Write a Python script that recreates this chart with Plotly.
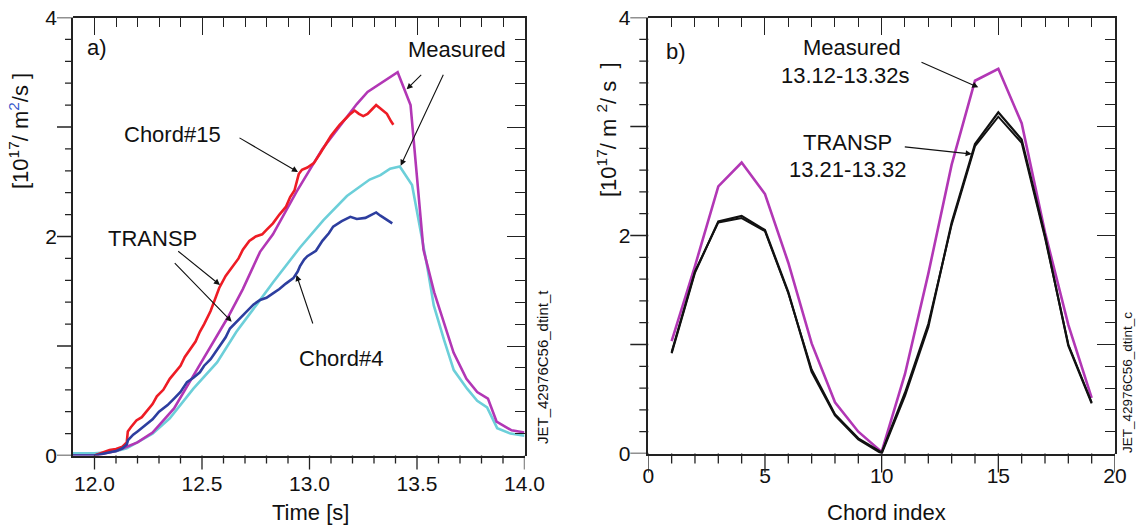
import plotly.graph_objects as go

# ---------------- data ----------------
# panel a) measured signals
t_meas = [11.90, 12.00, 12.05, 12.10, 12.15, 12.20, 12.27, 12.37, 12.46, 12.54, 12.62, 12.69,
          12.77, 12.83, 12.94, 13.06, 13.16, 13.22, 13.27, 13.41, 13.47, 13.53, 13.58, 13.67,
          13.73, 13.78, 13.83, 13.87, 13.94, 14.00]
meas_chord15 = [0.00, 0.00, 0.02, 0.04, 0.08, 0.12, 0.21, 0.43, 0.73, 1.00, 1.26, 1.52,
                1.86, 2.02, 2.41, 2.80, 3.06, 3.21, 3.32, 3.50, 3.20, 1.88, 1.49, 0.94,
                0.70, 0.58, 0.52, 0.31, 0.23, 0.21]

t_meas4 = [11.90, 12.00, 12.06, 12.10, 12.15, 12.27, 12.35, 12.46, 12.57, 12.66, 12.755, 12.83,
           12.956, 13.065, 13.174, 13.28, 13.33, 13.375, 13.42, 13.477, 13.547, 13.578, 13.625,
           13.671, 13.733, 13.78, 13.826, 13.873, 13.935, 14.00]
meas_chord4 = [0.02, 0.02, 0.03, 0.04, 0.066, 0.20, 0.34, 0.61, 0.85, 1.13, 1.38, 1.58,
               1.90, 2.15, 2.37, 2.52, 2.56, 2.62, 2.64, 2.47, 1.73, 1.37, 1.06,
               0.78, 0.61, 0.50, 0.44, 0.25, 0.20, 0.18]

# panel a) TRANSP simulated signals
t_tr15 = [12.00, 12.04, 12.07, 12.10, 12.13, 12.15, 12.155, 12.17, 12.195, 12.22, 12.24, 12.27,
          12.29, 12.32, 12.35, 12.37, 12.40, 12.42, 12.44, 12.47, 12.49, 12.51, 12.54, 12.56,
          12.58, 12.61, 12.645, 12.67, 12.69, 12.72, 12.75, 12.78, 12.80, 12.83, 12.86, 12.89,
          12.91, 12.93, 12.95, 12.965, 12.99, 13.02, 13.05, 13.08, 13.10, 13.12, 13.14, 13.17,
          13.19, 13.21, 13.23, 13.25, 13.27, 13.29, 13.31, 13.33, 13.36, 13.38, 13.39]
transp_chord15 = [0.00, 0.03, 0.05, 0.06, 0.08, 0.12, 0.22, 0.26, 0.32, 0.35, 0.40, 0.47,
                  0.54, 0.60, 0.70, 0.75, 0.82, 0.90, 0.96, 1.04, 1.13, 1.20, 1.32, 1.42,
                  1.53, 1.64, 1.73, 1.80, 1.88, 1.96, 2.00, 2.02, 2.06, 2.12, 2.20, 2.27,
                  2.36, 2.42, 2.57, 2.61, 2.63, 2.67, 2.76, 2.86, 2.92, 2.97, 3.02, 3.08,
                  3.12, 3.15, 3.12, 3.10, 3.12, 3.16, 3.20, 3.17, 3.12, 3.05, 3.02]

t_tr4 = [11.90, 12.00, 12.05, 12.10, 12.13, 12.15, 12.156, 12.18, 12.20, 12.24, 12.27, 12.30,
         12.34, 12.37, 12.40, 12.43, 12.46, 12.49, 12.51, 12.54, 12.58, 12.61, 12.63, 12.66,
         12.68, 12.71, 12.74, 12.77, 12.80, 12.83, 12.86, 12.89, 12.925, 12.945, 12.956, 12.975,
         12.99, 13.03, 13.06, 13.09, 13.11, 13.15, 13.19, 13.22, 13.26, 13.29, 13.31, 13.33,
         13.36, 13.385]
transp_chord4 = [0.00, 0.00, 0.02, 0.04, 0.066, 0.10, 0.14, 0.19, 0.22, 0.28, 0.33, 0.40,
                 0.46, 0.52, 0.58, 0.67, 0.71, 0.76, 0.82, 0.88, 1.00, 1.08, 1.16, 1.22,
                 1.26, 1.32, 1.38, 1.42, 1.44, 1.48, 1.52, 1.57, 1.62, 1.68, 1.73, 1.79,
                 1.82, 1.87, 1.96, 2.03, 2.09, 2.14, 2.18, 2.16, 2.17, 2.20, 2.22, 2.19,
                 2.15, 2.12]

# panel b) chord profiles
chord_index = list(range(1, 20))
prof_measured = [1.03, 1.72, 2.45, 2.67, 2.38, 1.75, 1.01, 0.47, 0.20, 0.015,
                 0.73, 1.65, 2.65, 3.42, 3.53, 3.03, 2.03, 1.18, 0.51]
prof_transp_1 = [0.92, 1.66, 2.13, 2.18, 2.05, 1.48, 0.75, 0.35, 0.13, 0.00,
                 0.53, 1.16, 2.12, 2.84, 3.13, 2.88, 2.00, 0.99, 0.46]
prof_transp_2 = [0.93, 1.67, 2.12, 2.16, 2.04, 1.47, 0.77, 0.36, 0.14, 0.01,
                 0.56, 1.19, 2.10, 2.82, 3.09, 2.85, 1.98, 1.00, 0.47]

x_ticks_a = [12.0, 12.5, 13.0, 13.5, 14.0]
x_tick_text_a = ["12.0", "12.5", "13.0", "13.5", "14.0"]
y_label_vals = [0, 2, 4]
y_label_text = ["0", "2", "4"]
x_ticks_b = [0, 5, 10, 15, 20]
x_tick_text_b = ["0", "5", "10", "15", "20"]

# ---------------- styling ----------------
W, H = 1136, 527
FONT = "Liberation Sans, Arial, Helvetica, sans-serif"
MAG = "#B237B5"
CYAN = "#6CCFD9"
RED = "#EE1C25"
BLUE = "#2D3E9F"
BLK = "#111111"
AX = "#222222"


def fx(p):
    return p / W


def fy(p):
    return 1 - p / H


A_L, A_R, A_B, A_T = 73, 524.5, 455.5, 17.5
B_L, B_R, B_B, B_T = 648.3, 1115, 453.5, 17.5
dom_ax = [fx(A_L), fx(A_R)]
dom_ay = [fy(A_B), fy(A_T)]
dom_bx = [fx(B_L), fx(B_R)]
dom_by = [fy(B_B), fy(B_T)]

fig = go.Figure()
lw = 2.6
fig.add_trace(go.Scatter(x=t_meas4, y=meas_chord4, mode="lines", line=dict(color=CYAN, width=lw),
                         xaxis="x", yaxis="y"))
fig.add_trace(go.Scatter(x=t_meas, y=meas_chord15, mode="lines", line=dict(color=MAG, width=lw),
                         xaxis="x", yaxis="y"))
fig.add_trace(go.Scatter(x=t_tr15, y=transp_chord15, mode="lines", line=dict(color=RED, width=lw),
                         xaxis="x", yaxis="y"))
fig.add_trace(go.Scatter(x=t_tr4, y=transp_chord4, mode="lines", line=dict(color=BLUE, width=lw),
                         xaxis="x", yaxis="y"))

fig.add_trace(go.Scatter(x=chord_index, y=prof_measured, mode="lines", line=dict(color=MAG, width=lw),
                         xaxis="x2", yaxis="y2"))
fig.add_trace(go.Scatter(x=chord_index, y=prof_transp_1, mode="lines", line=dict(color=BLK, width=2.2),
                         xaxis="x2", yaxis="y2"))
fig.add_trace(go.Scatter(x=chord_index, y=prof_transp_2, mode="lines", line=dict(color=BLK, width=2.0),
                         xaxis="x2", yaxis="y2"))

# helper subplots 3/4 = frame (top / right) with inside ticks
for n in [3, 4]:
    fig.add_trace(go.Scatter(x=[None], y=[None], xaxis="x%d" % n, yaxis="y%d" % n, hoverinfo="skip"))

tickfont = dict(family=FONT, size=21, color="#111")
base = dict(showgrid=False, zeroline=False, tickcolor=AX, tickwidth=1.3)
lined = dict(showline=True, linecolor=AX, linewidth=1.5, **base)


def label_axis(dom, anchor, rng, vals, txt, standoff):
    return dict(domain=dom, anchor=anchor, range=rng, tickmode="array", tickvals=vals, ticktext=txt,
                ticks="", tickfont=tickfont, ticklabelstandoff=standoff, **lined)


def frame_axis(dom, anchor, side, rng, t0, d, mdt):
    return dict(domain=dom, anchor=anchor, side=side, range=rng, tickmode="linear", tick0=t0, dtick=d,
                ticks="inside", ticklen=18, showticklabels=False,
                minor=dict(tick0=t0, dtick=mdt, ticks="inside", ticklen=10, tickcolor=AX, tickwidth=1.3),
                **lined)


layout = dict(
    template="none",
    width=W, height=H, margin=dict(l=0, r=0, t=0, b=0),
    paper_bgcolor="white", plot_bgcolor="rgba(0,0,0,0)", showlegend=False,
    font=dict(family=FONT, color="#111"),
    xaxis=label_axis(dom_ax, "y", [11.9, 14.0], x_ticks_a, x_tick_text_a, 9),
    yaxis=label_axis(dom_ay, "x", [0, 4], y_label_vals, y_label_text, 10),
    xaxis3=frame_axis(dom_ax, "y3", "top", [11.9, 14.0], 12.0, 0.5, 0.1),
    yaxis3=frame_axis(dom_ay, "x3", "right", [0, 4], 0, 1, 0.2),
    xaxis2=label_axis(dom_bx, "y2", [0, 20], x_ticks_b, x_tick_text_b, 3),
    yaxis2=label_axis(dom_by, "x2", [0, 4], y_label_vals, y_label_text, 12),
    xaxis4=frame_axis(dom_bx, "y4", "top", [0, 20], 0, 5, 1),
    yaxis4=frame_axis(dom_by, "x4", "right", [0, 4], 0, 1, 0.2),
)
fig.update_layout(**layout)

# ---- outer tick marks (bottom / left), drawn as short line shapes tied to the axes
shapes = []
tick_line = dict(color=AX, width=1.3)


def xticks(xref, vals, base_px, length):
    for v in vals:
        shapes.append(dict(type="line", xref=xref, yref="paper", x0=v, x1=v,
                           y0=fy(base_px), y1=fy(base_px + length), line=tick_line, layer="above"))


def yticks(yref, vals, base_px, length):
    for v in vals:
        shapes.append(dict(type="line", xref="paper", yref=yref, y0=v, y1=v,
                           x0=fx(base_px), x1=fx(base_px - length), line=tick_line, layer="above"))


a_major_x = [12.0 + 0.5 * k for k in range(5)]
a_minor_x = [round(12.0 + 0.1 * k, 2) for k in range(20) if k % 5]
y_major = [0, 1, 2, 3, 4]
y_minor = [round(0.2 * k, 2) for k in range(20) if k % 5]
b_major_x = [0, 5, 10, 15, 20]
b_minor_x = [k for k in range(1, 20) if k % 5]

xticks("x", a_major_x, A_B, 14)
xticks("x", a_minor_x, A_B, 8)
yticks("y", y_major, A_L, 16)
yticks("y", y_minor, A_L, 8)
xticks("x2", b_major_x, B_B, 19)
xticks("x2", b_minor_x, B_B, 10)
yticks("y2", y_major, B_L, 18)
yticks("y2", y_minor, B_L, 9)

ann = []


def text(px, py, s, size=22, angle=0):
    ann.append(dict(x=fx(px), y=fy(py), xref="paper", yref="paper", text=s, showarrow=False,
                    xanchor="center", yanchor="middle", textangle=angle,
                    font=dict(family=FONT, size=size, color="#111")))


def arrow(tx, ty, hx, hy):
    ann.append(dict(x=fx(hx), y=fy(hy), xref="paper", yref="paper", text="", showarrow=True,
                    ax=tx - hx, ay=ty - hy, axref="pixel", ayref="pixel",
                    arrowhead=2, arrowsize=1.1, arrowwidth=1.1, arrowcolor="#111", standoff=0))


# panel a texts
text(97, 48, "a)")
text(172, 135, "Chord#15")
text(153, 238, "TRANSP")
text(341, 358, "Chord#4")
text(457, 50, "Measured")
text(310, 512, "Time [s]")
text(19, 131, "[10<sup>17</sup>/ m<sup><span style='color:#3355CC'>2</span></sup>/s ]", size=22, angle=-90)
text(542, 367, "JET_42976C56_dtint_t", size=15, angle=-90)
arrow(238, 137, 298, 172)
arrow(176.7, 250, 220, 285)
arrow(173.3, 261.7, 231.7, 321.7)
arrow(313.3, 325, 296.5, 275)
arrow(422.7, 73.3, 406.7, 89.3)
arrow(444, 73.3, 400.7, 165.7)

# panel b texts
text(676, 51, "b)")
text(852, 48, "Measured")
text(845, 75, "13.12-13.32s")
text(847, 142, "TRANSP")
text(847, 170, "13.21-13.32")
text(886, 512, "Chord index")
text(607, 130, "[10<sup>17</sup>/ m <sup>2</sup>/ s  ]", size=22, angle=-90)
text(1127, 383, "JET_42976C56_dtint_c", size=13.5, angle=-90)
arrow(920, 61.7, 978.3, 87.3)
arrow(903.3, 146.7, 971.7, 154)

fig.update_layout(annotations=ann, shapes=shapes)
fig.write_html("out.html")
